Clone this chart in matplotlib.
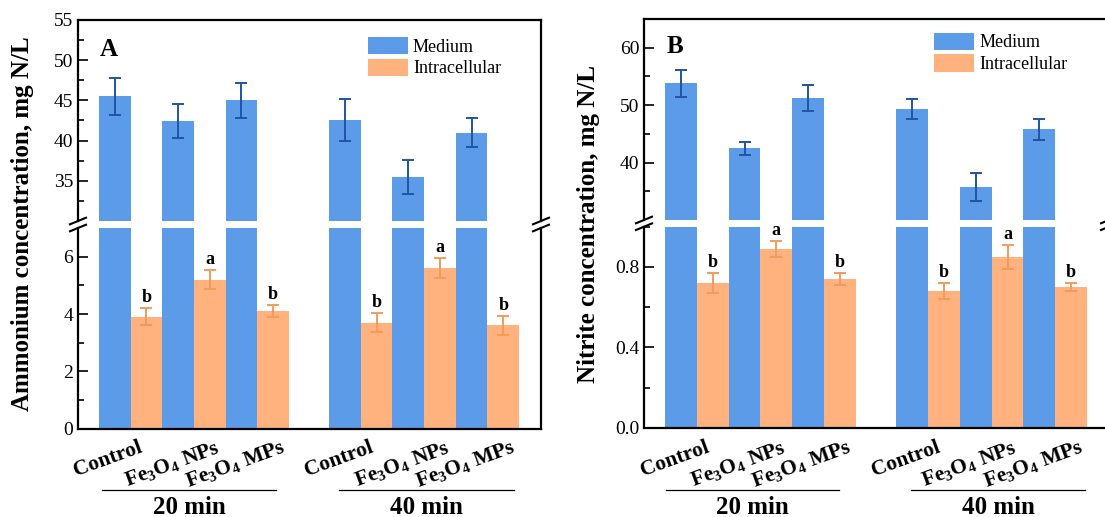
import matplotlib
matplotlib.use("Agg")
import matplotlib.pyplot as plt
import numpy as np
from matplotlib import transforms
from matplotlib.ticker import FixedLocator, FormatStrFormatter

plt.rcParams['font.family'] = 'Liberation Serif'
plt.rcParams['mathtext.fontset'] = 'custom'
plt.rcParams['mathtext.rm'] = 'Liberation Serif'
plt.rcParams['mathtext.bf'] = 'Liberation Serif:bold'
plt.rcParams['mathtext.default'] = 'bf'

# data
treatments = ["Control", "Fe$_3$O$_4$ NPs", "Fe$_3$O$_4$ MPs"]
times = ["20 min", "40 min"]

amm_medium = [45.5, 42.4, 45.0, 42.6, 35.5, 41.0]
amm_medium_err = [2.3, 2.1, 2.2, 2.6, 2.1, 1.8]
amm_intra = [3.9, 5.2, 4.1, 3.7, 5.6, 3.6]
amm_intra_err = [0.3, 0.32, 0.2, 0.32, 0.34, 0.32]
amm_letters = ["b", "a", "b", "b", "a", "b"]

nit_medium = [53.8, 42.5, 51.2, 49.3, 35.7, 45.8]
nit_medium_err = [2.4, 1.1, 2.3, 1.75, 2.4, 1.8]
nit_intra = [0.72, 0.89, 0.74, 0.68, 0.85, 0.70]
nit_intra_err = [0.05, 0.04, 0.03, 0.04, 0.06, 0.02]
nit_letters = ["b", "a", "b", "b", "a", "b"]

blue = '#5C9BE8'
orange = '#FFB27E'
blue_err = '#1F55A3'
orange_err = '#F59A5C'

W, H = 1105, 517
fig = plt.figure(figsize=(W / 100, H / 100), dpi=100)

group_start = [0, 7.27]
centers = np.array([g + c for g in group_start for c in (1, 3, 5)])
x_blue = centers - 0.5
x_orange = centers + 0.5


def px_axes(l, t, r, b):
    return fig.add_axes([l / W, 1 - b / H, (r - l) / W, (b - t) / H])


def panel(box, medium, medium_err, intra, intra_err, letters,
          up_lim, up_major, up_minor, lo_lim, lo_major, lo_minor, fmt,
          ylabel, ylabel_x, tag, tag_xy, legend_xy, line_spans, time_x):
    left, right, top, mid_top, mid_bot, bottom = box
    ax_up = px_axes(left, top, right, mid_top)
    ax_lo = px_axes(left, mid_bot, right, bottom)
    for ax in (ax_up, ax_lo):
        ax.bar(x_blue, medium, 1.0, color=blue, label='Medium', zorder=2)
        ax.bar(x_orange, intra, 1.0, color=orange, label='Intracellular', zorder=2)
        ax.errorbar(x_blue, medium, yerr=medium_err, fmt='none', ecolor=blue_err,
                    elinewidth=1.4, capsize=4.5, capthick=1.4, zorder=3)
        ax.errorbar(x_orange, intra, yerr=intra_err, fmt='none', ecolor=orange_err,
                    elinewidth=1.4, capsize=4.5, capthick=1.4, zorder=3)
        ax.set_xlim(-0.66, 13.96)
        for s in ax.spines.values():
            s.set_linewidth(1.6)
        ax.tick_params(axis='y', which='major', direction='in', length=7, width=1.2,
                       labelsize=14, right=False)
        ax.tick_params(axis='y', which='minor', direction='in', length=4, width=1.2,
                       right=False)

    ax_up.set_ylim(*up_lim)
    ax_up.yaxis.set_major_locator(FixedLocator(up_major))
    ax_up.yaxis.set_minor_locator(FixedLocator(up_minor))
    ax_up.spines['bottom'].set_visible(False)
    ax_up.tick_params(axis='x', bottom=False, labelbottom=False)

    ax_lo.set_ylim(*lo_lim)
    ax_lo.yaxis.set_major_locator(FixedLocator(lo_major))
    ax_lo.yaxis.set_minor_locator(FixedLocator(lo_minor))
    ax_lo.yaxis.set_major_formatter(FormatStrFormatter(fmt))
    ax_lo.spines['top'].set_visible(False)
    ax_lo.set_xticks([g + 3 for g in group_start])
    ax_lo.set_xticklabels([])
    ax_lo.tick_params(axis='x', direction='in', length=7, width=1.5)

    # significance letters
    for x, v, e, l in zip(x_orange, intra, intra_err, letters):
        ax_lo.annotate(l, (x, v + e), xytext=(0, 1.5), textcoords='offset points',
                       ha='center', va='bottom', fontsize=13, fontweight='bold')

    # rotated category labels and group lines
    blend = transforms.blended_transform_factory(ax_lo.transData, fig.transFigure)
    for c, lab in zip(centers, treatments * 2):
        ax_lo.text(c - 0.7, 1 - 437 / H, lab, transform=blend, rotation=20,
                   ha='center', va='top', fontsize=15.5, fontweight='bold')
    for g, (a, b), tx, tlab in zip(group_start, line_spans, time_x, times):
        ax_lo.plot([g + a, g + b], [1 - 489.5 / H] * 2, transform=blend, color='k',
                   lw=0.9, clip_on=False)
        ax_lo.text(g + tx, 1 - 496 / H, tlab, transform=blend, ha='center', va='top',
                   fontsize=18, fontweight='bold')

    # axis break marks
    w_px = right - left
    for ax, y0, h_px in ((ax_up, 0, mid_top - top), (ax_lo, 1, bottom - mid_bot)):
        dx, dy = 8 / w_px, 3.3 / h_px
        for x0 in (0, 1):
            ax.plot([x0 - dx, x0 + dx], [y0 - dy, y0 + dy], transform=ax.transAxes,
                    color='k', lw=1.5, clip_on=False, zorder=5)

    ax_up.legend(loc='upper left', bbox_to_anchor=legend_xy, frameon=False, fontsize=13,
                 handlelength=2.2, handleheight=1.1, labelspacing=0.15,
                 handletextpad=0.3, borderpad=0, borderaxespad=0)
    ax_up.text(tag_xy[0], tag_xy[1], tag, transform=ax_up.transAxes, ha='left',
               va='center', fontsize=18, fontweight='bold')
    fig.text(ylabel_x / W, 1 - 224 / H, ylabel, rotation=90, ha='center', va='center',
             fontsize=18, fontweight='bold')


panel((78, 541, 20, 221, 228, 428.7), amm_medium, amm_medium_err, amm_intra,
      amm_intra_err, amm_letters,
      (30, 55), [35, 40, 45, 50, 55], [32.5, 37.5, 42.5, 47.5, 52.5],
      (0, 7), [0, 2, 4, 6], [1, 3, 5], '%d',
      "Ammonium concentration, mg N/L", 23, "A", (0.0475, 0.851),
      (0.626, 0.915), [(0.1, 5.6), (0.32, 5.85)], [2.87, 3.07])

panel((644, 1109, 19, 220, 226.7, 427.7), nit_medium, nit_medium_err, nit_intra,
      nit_intra_err, nit_letters,
      (30, 65), [40, 50, 60], [35, 45, 55, 65],
      (0, 1.0), [0.0, 0.4, 0.8], [0.2, 0.6, 1.0], '%.1f',
      "Nitrite concentration, mg N/L", 588, "B", (0.049, 0.861),
      (0.624, 0.932), [(0.03, 5.47), (0.45, 5.95)], [2.75, 3.2])

fig.savefig('out.png', dpi=100)
